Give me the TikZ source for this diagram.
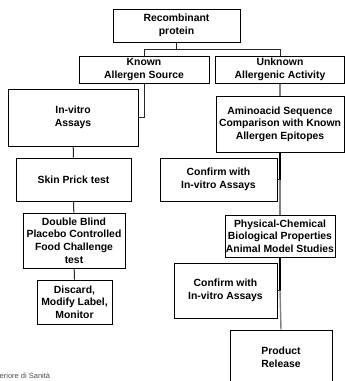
\documentclass[tikz,border=0pt]{standalone}
\usepackage{fontspec}
\setmainfont{Liberation Sans}
\usetikzlibrary{arrows.meta}

\begin{document}
\begin{tikzpicture}[x=1pt, y=-1pt,
  box/.style={draw=black, line width=1pt, inner sep=0pt, align=center,
    font=\fontsize{10.4}{12.6}\selectfont\bfseries},
  link/.style={draw=black!85, line width=1pt},
  greylink/.style={draw=black!50, line width=1.4pt},
  thicklink/.style={draw=black, line width=2.6pt}]
\clip (0,0) rectangle (345,381);
\path (176.5,25.5) node (rec) [box, minimum width=127, minimum height=33] {Recombinant\\protein};
\path (144,69.5) node (known) [box, minimum width=130, minimum height=27] {Known\\Allergen Source};
\path (280,69.5) node (unknown) [box, minimum width=129, minimum height=27] {Unknown\\Allergenic Activity};
\path (73,117.5) node (invitro) [box, minimum width=130, minimum height=57] {In-vitro\\Assays};
\path (280,124) node (amino) [box, minimum width=128, minimum height=56] {Aminoacid Sequence\\Comparison with Known\\Allergen Epitopes};
\path (73.5,179.5) node (skin) [box, minimum width=115, minimum height=43] {Skin Prick test};
\path (218.5,179.5) node (confirmA) [box, minimum width=117, minimum height=43] {Confirm with\\In-vitro Assays};
\path (74,240.5) node (dblind) [box, minimum width=102, minimum height=55] {Double Blind\\Placebo Controlled\\Food Challenge\\test};
\path (280,236) node (phys) [box, minimum width=110, minimum height=42] {Physical-Chemical\\Biological Properties\\Animal Model Studies};
\path (74.5,302) node (discard) [box, minimum width=75, minimum height=44] {Discard,\\Modify Label,\\Monitor};
\path (225.5,290.5) node (confirmB) [box, minimum width=103, minimum height=55] {Confirm with\\In-vitro Assays};
\path (281,357) node (release) [box, minimum width=102, minimum height=54] {Product\\Release};
\path (-0.5,378) node (source) [anchor=base west, inner sep=0pt, text=black!70, font=\fontsize{7.5}{9}\selectfont] {eriore di Sanità};
\coordinate (split) at ([yshift=-6.5pt]rec.south);
\coordinate (joinA) at (amino.south |- confirmA.east);
\coordinate (joinB) at (phys.south |- confirmB.east);
\draw[link] (rec.south) -- (split) -| (known.north);
\draw[link] (split) -| (unknown.north);
\draw[link] (known.south) |- (invitro.east);
\draw[link] (invitro) -- (skin);
\draw[link] (skin) -- (dblind);
\draw[link] (dblind) -- (discard);
\draw[greylink] (unknown) -- (amino);
\draw[thicklink] (amino.south) -- (joinA);
\draw[link] (joinA) -- (confirmA.east);
\draw[greylink] (joinA) -- (phys.north);
\draw[thicklink] (phys.south) -- (joinB);
\draw[link] (joinB) -- (confirmB.east);
\draw[greylink] (joinB) -- (release.north);
\end{tikzpicture}
\end{document}
